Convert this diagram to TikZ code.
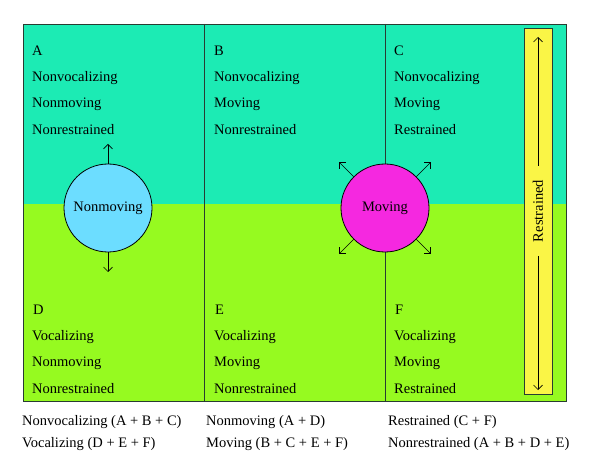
\documentclass[tikz,border=0pt]{standalone}
\usepackage{fontspec}
\setmainfont{Liberation Serif}
\usetikzlibrary{arrows.meta}
\definecolor{teal1}{RGB}{28,235,180}
\definecolor{lime1}{RGB}{150,250,32}
\definecolor{cblue}{RGB}{108,221,255}
\definecolor{cmag}{RGB}{245,40,224}
\definecolor{ybar}{RGB}{250,245,70}
\definecolor{edge}{RGB}{40,60,50}
\begin{document}
\begin{tikzpicture}[x=1pt,y=-1pt,
  lab/.style={anchor=base west,inner sep=0pt,font=\fontsize{14.5}{16}\selectfont},
  leg/.style={anchor=base west,inner sep=0pt,font=\fontsize{14.5}{16}\selectfont},
  circ/.style={circle,draw=black,line width=0.8pt,minimum size=88pt,inner sep=0pt,font=\fontsize{14.5}{16}\selectfont},
  arr/.style={-{Straight Barb[length=4.5pt,width=9pt,line width=0.7pt]},line width=0.7pt}]
\useasboundingbox (0,0) rectangle (600,473);
\fill[white] (0,0) rectangle (600,473);
% backgrounds
\fill[teal1] (23,24) rectangle (566,204);
\fill[lime1] (23,204) rectangle (566,401);
\draw[edge,line width=0.8pt] (23,24) rectangle (566,401);
\draw[edge,line width=0.8pt] (204,24) -- (204,401);
\draw[edge,line width=0.8pt] (385,24) -- (385,401);
% yellow bar
\node[draw=edge,fill=ybar,line width=0.7pt,minimum width=28pt,minimum height=366pt,inner sep=0pt] (bar) at (538,211) {};
\node[rotate=90,inner sep=0pt,font=\fontsize{14.5}{16}\selectfont] (rtext) at (538,211) {Restrained};
\coordinate (btop) at (538,37);
\coordinate (bbot) at (538,390);
\draw[arr] (538,166) -- (btop);
\draw[arr] (538,256) -- (bbot);
% text
\node[lab] (a1) at (32,56) {A};
\node[lab] (a2) at (32,82) {Nonvocalizing};
\node[lab] (a3) at (32,108) {Nonmoving};
\node[lab] (a4) at (32,135) {Nonrestrained};
\node[lab] (b1) at (214,56) {B};
\node[lab] (b2) at (214,82) {Nonvocalizing};
\node[lab] (b3) at (214,108) {Moving};
\node[lab] (b4) at (214,135) {Nonrestrained};
\node[lab] (c1) at (394,56) {C};
\node[lab] (c2) at (394,82) {Nonvocalizing};
\node[lab] (c3) at (394,108) {Moving};
\node[lab] (c4) at (394,135) {Restrained};
\node[lab] (d1) at (33,314) {D};
\node[lab] (d2) at (32,340) {Vocalizing};
\node[lab] (d3) at (32,366) {Nonmoving};
\node[lab] (d4) at (32,393) {Nonrestrained};
\node[lab] (e1) at (215,314) {E};
\node[lab] (e2) at (214,340) {Vocalizing};
\node[lab] (e3) at (214,366) {Moving};
\node[lab] (e4) at (214,393) {Nonrestrained};
\node[lab] (f1) at (395,314) {F};
\node[lab] (f2) at (394,340) {Vocalizing};
\node[lab] (f3) at (394,366) {Moving};
\node[lab] (f4) at (394,393) {Restrained};
% circles
\node[circ,fill=cblue] (nm) at (108,208) {Nonmoving};
\node[circ,fill=cmag] (mv) at (385,208) {Moving};
\coordinate (nmU) at (108,144);
\coordinate (nmD) at (108,272);
\draw[arr] (nm.north) -- (nmU);
\draw[arr] (nm.south) -- (nmD);
\coordinate (mvNW) at (339,162);
\coordinate (mvNE) at (431,162);
\coordinate (mvSW) at (339,254);
\coordinate (mvSE) at (431,254);
\draw[arr] (mv.north west) -- (mvNW);
\draw[arr] (mv.north east) -- (mvNE);
\draw[arr] (mv.south west) -- (mvSW);
\draw[arr] (mv.south east) -- (mvSE);
% legend
\node[leg] (l1) at (22,425) {Nonvocalizing (A + B + C)};
\node[leg] (l2) at (22,447) {Vocalizing (D + E + F)};
\node[leg] (l3) at (206,425) {Nonmoving (A + D)};
\node[leg] (l4) at (206,447) {Moving (B + C + E + F)};
\node[leg] (l5) at (388,425) {Restrained (C + F)};
\node[leg] (l6) at (388,447) {Nonrestrained (A + B + D + E)};
\end{tikzpicture}
\end{document}
